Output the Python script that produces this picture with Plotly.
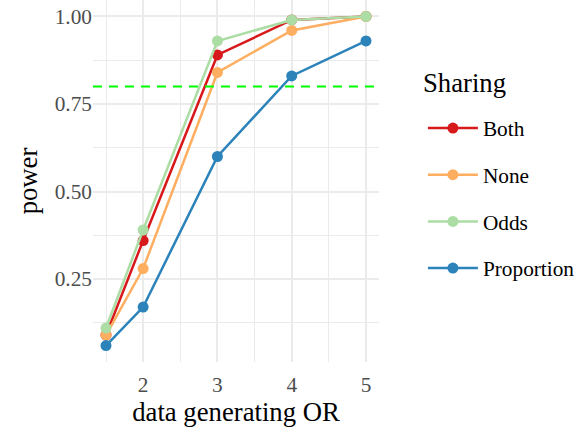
import plotly.graph_objects as go

odds_ratio = [1.5, 2, 3, 4, 5]
series_names = ["Both", "None", "Odds", "Proportion"]
power_both = [0.09, 0.36, 0.89, 0.99, 1.00]
power_none = [0.09, 0.28, 0.84, 0.96, 1.00]
power_odds = [0.11, 0.39, 0.93, 0.99, 1.00]
power_prop = [0.06, 0.17, 0.60, 0.83, 0.93]
target_power = 0.8
x_ticks = [2, 3, 4, 5]
x_tick_labels = ["2", "3", "4", "5"]
y_ticks = [0.25, 0.50, 0.75, 1.00]
y_tick_labels = ["0.25", "0.50", "0.75", "1.00"]

colors = ["#D7191C", "#FDAE61", "#ABDDA4", "#2B83BA"]
series_vals = [power_both, power_none, power_odds, power_prop]

FONT = "Liberation Serif"
fig = go.Figure()
for name, vals, col in zip(series_names, series_vals, colors):
    fig.add_trace(go.Scatter(
        x=odds_ratio, y=vals, name=name, mode="lines+markers",
        line=dict(color=col, width=2.5), marker=dict(color=col, size=11),
        legendgroup=name,
    ))

fig.add_shape(type="line", xref="paper", x0=0, x1=1, yref="y",
              y0=target_power, y1=target_power,
              line=dict(color="#00FF00", width=2, dash="9px,7px"), layer="above")

fig.add_annotation(text="Sharing", xref="paper", yref="paper", x=1.147, y=0.771,
                   xanchor="left", yanchor="middle", showarrow=False,
                   font=dict(size=26.7, family=FONT, color="black"))

grid = "#EBEBEB"
fig.update_layout(
    width=584, height=428,
    margin=dict(l=93, r=205, t=0, b=66),
    paper_bgcolor="white", plot_bgcolor="white",
    font=dict(family=FONT, color="black"),
    legend=dict(
        font=dict(size=21.3, family=FONT, color="black"),
        x=1.1535, xanchor="left", y=0.7025, yanchor="top",
        tracegroupgap=16, itemwidth=50,
        bgcolor="rgba(0,0,0,0)",
    ),
    xaxis=dict(
        range=[1.325, 5.175], tickvals=x_ticks, ticktext=x_tick_labels,
        showgrid=True, gridcolor=grid, gridwidth=2, zeroline=False,
        showline=False, ticks="", automargin=False, ticklabelstandoff=8,
        tickfont=dict(size=21.3, family=FONT, color="#4D4D4D"),
        minor=dict(tickvals=[1.5, 2.5, 3.5, 4.5], showgrid=True, gridcolor=grid, gridwidth=1),
        title=dict(text="data generating OR", font=dict(size=26.7, family=FONT, color="black"), standoff=0),
    ),
    yaxis=dict(
        range=[0.013, 1.047], tickvals=y_ticks, ticktext=y_tick_labels,
        showgrid=True, gridcolor=grid, gridwidth=2, zeroline=False,
        showline=False, ticks="", automargin=False,
        tickfont=dict(size=21.3, family=FONT, color="#4D4D4D"),
        minor=dict(tickvals=[0.125, 0.375, 0.625, 0.875], showgrid=True, gridcolor=grid, gridwidth=1),
        title=dict(text="power", font=dict(size=26.7, family=FONT, color="black"), standoff=9),
    ),
)

fig.write_html("out.html", post_script="document.body.style.margin='0';",
               config={"displayModeBar": False})
